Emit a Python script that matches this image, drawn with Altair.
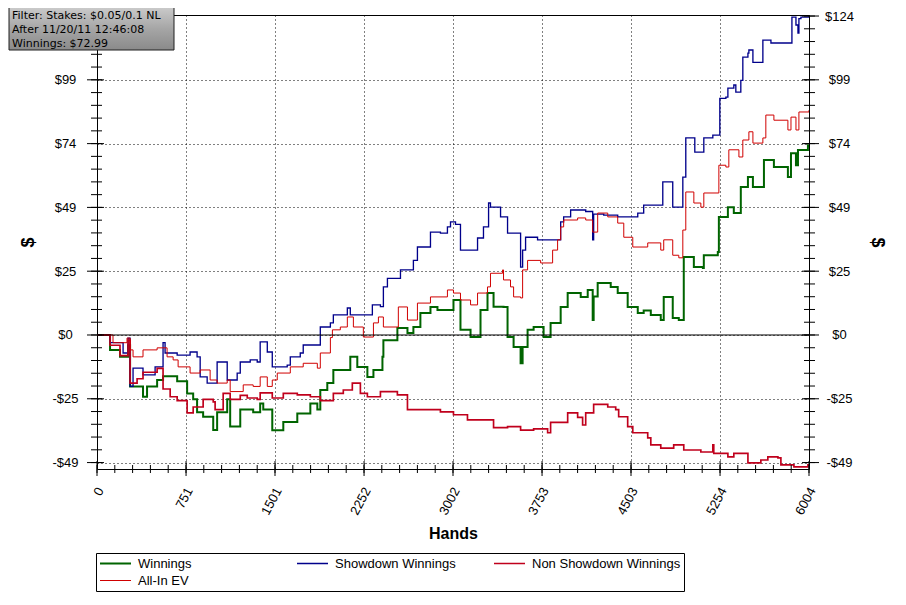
"""Poker results graph: winnings, showdown, non showdown and all-in EV by hand."""

import altair as alt
import pandas as pd

SERIES = ['Winnings', 'Showdown Winnings', 'Non Showdown Winnings', 'All-In EV']
SERIES_COLOURS = ['#006400', '#00008b', '#c0001c', '#d00000']
SERIES_WIDTHS = [2, 1, 1, 1]
# vega lays the legend grid out in this order, which reads back as SERIES
LEGEND_ORDER = [0, 2, 1, 3]

WIN_HANDS = [0, 110, 194, 262, 279, 388, 422, 507, 557, 676, 760, 811, 844, 895, 980,
             1013, 1098, 1123, 1208, 1317, 1376, 1402, 1478, 1571, 1689, 1799, 1858,
             1883, 1942, 1993, 2136, 2195, 2280, 2331, 2407, 2415, 2533, 2618, 2668,
             2727, 2812, 2871, 3006, 3065, 3150, 3234, 3293, 3344, 3428, 3462, 3513,
             3572, 3589, 3631, 3682, 3766, 3825, 3910, 3969, 4053, 4079, 4138, 4180,
             4188, 4222, 4332, 4391, 4475, 4560, 4610, 4670, 4754, 4779, 4838, 4855,
             4906, 4948, 5033, 5109, 5117, 5235, 5244, 5320, 5370, 5429, 5489, 5531,
             5624, 5708, 5826, 5852, 5894, 5911, 5995, 6004]
WIN_VALUES = [0, -5.8, -8.5, -4, -20, -24, -20, -17.5, -16, -18, -22.7, -25, -30, -31.8, -36.9,
              -30, -25, -35.6, -29, -30, -26.6, -29, -37, -33.8, -30.5, -26.6, -29,
              -21.4, -18.7, -13.6, -8.5, -12.4, -16.3, -13.6, -8.5, -2, 2.7, 0.8, 3.1,
              8.5, 10.9, 9.7, 13.6, 2, -0.8, 9.7, 16.3, 11, 10.9, -0.8, -4.7,
              -11, -4.7, 2, 3.1, -0.8, 4.7, 10.9, 16.3, 16.3, 14.8, 17.5, 5.8,
              15, 20.2, 18.7, 16.3, 10.9, 8.5, 9.5, 7.8, 5.8, 14.8, 14.8, 6.6,
              5.8, 30.3, 26.4, 26, 31, 32.3, 45.9, 49.7, 47.4, 57.5, 61.4, 57.5,
              68, 65.3, 61.4, 70.7, 66, 71.9, 73.8, 72.99]

SD_HANDS = [0, 110, 220, 262, 279, 304, 388, 490, 557, 574, 676, 785, 844, 870, 929,
            1013, 1098, 1182, 1208, 1292, 1351, 1376, 1436, 1478, 1604, 1630, 1714,
            1739, 1883, 1968, 1993, 2111, 2136, 2322, 2390, 2415, 2449, 2559, 2668,
            2702, 2812, 2896, 2955, 2981, 3023, 3065, 3209, 3259, 3302, 3318, 3403,
            3462, 3572, 3589, 3614, 3715, 3910, 3935, 3994, 4121, 4180, 4188, 4273,
            4391, 4560, 4610, 4771, 4855, 4940, 4965, 5041, 5117, 5193, 5252, 5303,
            5320, 5370, 5387, 5429, 5446, 5489, 5497, 5531, 5615, 5683, 5860, 5894,
            5911, 5919, 5936, 6004]
SD_VALUES = [0, -3, -7, -1.2, -20, -12.9, -15.5, -12.4, -3, -7, -7.8, -6.6, -8.5, -16.3, -18.7,
             -10.5, -17.5, -14.8, -10.5, -9.7, -10.5, -2.7, -6.6, -12.4, -11.7, -8.5, -7,
             -3.9, 3.1, 4.7, 7.8, 10.5, 7.8, 11.7, 11, 18.7, 22, 25.3, 29,
             34.2, 40, 39.6, 42, 44, 43, 33, 37.7, 42, 51.3, 49.7, 45.9,
             39.6, 26.4, 33, 38, 37, 44, 45.9, 48.6, 48, 37, 47, 46.6,
             45.9, 47.4, 50.5, 59.5, 49.7, 61.4, 76.6, 71.1, 76.6, 77.7, 92, 92.5,
             96, 97.2, 94.4, 99, 108, 109.6, 110.8, 106, 114.6, 113.5, 123.6, 120.5,
             117.4, 123, 123.6, 124]

NSD_HANDS = [0, 110, 194, 262, 279, 338, 388, 507, 557, 617, 676, 760, 811, 895, 980,
             996, 1064, 1123, 1208, 1267, 1351, 1376, 1478, 1571, 1689, 1799, 1883,
             1993, 2077, 2153, 2221, 2280, 2390, 2533, 2618, 2896, 3006, 3124, 3344,
             3462, 3572, 3682, 3800, 3825, 3969, 4053, 4095, 4121, 4188, 4307, 4374,
             4399, 4475, 4518, 4644, 4670, 4754, 4863, 4948, 5092, 5193, 5201, 5320,
             5370, 5489, 5598, 5657, 5742, 5767, 5877, 5995, 6004]
NSD_VALUES = [0, -4, -8, -2, -18.7, -17, -14.5, -13, -21, -24, -25.5, -30.3, -28, -25, -26,
              -29, -22.7, -25, -23.5, -24.5, -25, -22.5, -24.5, -22.7, -23.3, -24, -25.5,
              -22.7, -21.4, -18.7, -22.7, -24, -22, -23.3, -29, -29.9, -31, -33, -36,
              -35.6, -37, -36.5, -38, -34, -30.3, -32, -35, -30.3, -27, -28, -29,
              -31.8, -35.6, -38, -40, -42.7, -44, -42.7, -44.7, -45.5, -42.7, -46, -47.4,
              -46, -49.7, -48.6, -47.4, -47.8, -50.5, -51.3, -50.5, -50.3]

EV_HANDS = [0, 135, 253, 279, 304, 388, 507, 591, 642, 684, 785, 870, 954, 1013, 1098,
            1123, 1233, 1317, 1376, 1436, 1478, 1520, 1630, 1739, 1858, 1883, 1968,
            1985, 2052, 2111, 2162, 2246, 2331, 2373, 2415, 2541, 2618, 2702, 2812,
            2955, 3006, 3065, 3150, 3209, 3293, 3318, 3420, 3428, 3487, 3513, 3572,
            3589, 3631, 3741, 3842, 3884, 3910, 3935, 4053, 4121, 4180, 4222, 4307,
            4391, 4442, 4518, 4644, 4754, 4779, 4855, 4906, 4940, 4965, 5033, 5092,
            5117, 5244, 5303, 5328, 5413, 5446, 5497, 5531, 5615, 5640, 5708, 5826,
            5852, 5894, 5919, 6004]
EV_VALUES = [0, -3, -1.2, -5.8, -8.5, -5.8, -5, -8.5, -9.7, -12.4, -14.8, -13.6, -17.5, -18.7, -17.5,
             -22, -19.4, -20, -16.3, -20, -17.5, -14.8, -12.4, -11, -12.9, -7, -1,
             2, 3.1, 7, 3.1, -0.8, 4.7, 7, 3.1, 10.9, 5.8, 12.4, 14.8,
             17.5, 16.3, 13.6, 11.7, 16.3, 18.7, 24, 25.3, 21.4, 18.7, 14.8, 14.4,
             25.3, 29, 28, 33, 37, 42, 44.7, 45.5, 44.7, 40, 47.4, 45.9,
             43.5, 38, 34.2, 35.8, 33, 37, 31, 30, 40.8, 55.6, 51.3, 49.7,
             55.2, 66, 65.3, 72, 69.2, 75.8, 79, 74.6, 76.6, 85.5, 83.5, 79.7,
             84.7, 79.7, 86.7, 87.4]

X_TICKS = [0, 751, 1501, 2252, 3002, 3753, 4503, 5254, 6004]
X_MINOR = [round(k * 150.1, 1) for k in range(41)]
Y_TICKS = [124, 99.2, 74.4, 49.6, 24.8, 0, -24.8, -49.6]
Y_LABELS = ['$124', '$99', '$74', '$49', '$25', '$0', '-$25', '-$49']
Y_MINOR = [round(k * 4.96, 2) for k in range(-10, 26)]

BOX_TEXT = ['Filter: Stakes: $0.05/0.1 NL', 'After 11/20/11 12:46:08', 'Winnings: $72.99']

W, H = 712, 454
FONT = 'Liberation Sans'
X_SCALE = alt.Scale(domain=[0, 6004], nice=False, zero=False)
Y_SCALE = alt.Scale(domain=[-52.1, 124.4], nice=False, zero=False)
GRID = dict(grid=True, gridColor='black', gridDash=[1, 3], gridOpacity=1, gridWidth=1)
ONE = pd.DataFrame({'v': [0]})


def get_results_data() -> pd.DataFrame:
    """Returns the four result series in long form."""

    frames = []
    for name, hands, values in zip(SERIES,
                                   [WIN_HANDS, SD_HANDS, NSD_HANDS, EV_HANDS],
                                   [WIN_VALUES, SD_VALUES, NSD_VALUES, EV_VALUES]):
        frames.append(pd.DataFrame({'series': name, 'hands': hands, 'dollars': values}))
    return pd.concat(frames, ignore_index=True)


def y_label_expr() -> str:
    """Returns a vega expression mapping tick values to the dollar labels."""

    parts = [f"abs(datum.value - ({v})) < 0.01 ? '{lab}'" for v, lab in zip(Y_TICKS, Y_LABELS)]
    return ' : '.join(parts) + " : ''"


def y_axis(orient: str, padding: int, title_x: int, grid: bool, values) -> alt.Axis:
    """Returns a dollar axis for either side of the plot."""

    extra = GRID if grid else {'grid': False}
    return alt.Axis(orient=orient, values=values, labelExpr=y_label_expr(), labelAlign='center',
                    labelBaseline='middle', labelPadding=padding, labelFont=FONT, labelFontSize=13,
                    labelColor='black', labelFlush=False, labelOverlap=False, ticks=False,
                    tickSize=0, domain=False, title='$', titleFont=FONT, titleFontSize=18,
                    titleFontWeight='bold', titleColor='black', titleX=title_x, titleY=H / 2,
                    titleAlign='center', titleBaseline='middle', **extra)


X_AXIS = alt.Axis(values=X_TICKS, format='d', labelAngle=-62, labelAlign='right',
                  labelBaseline='middle', labelPadding=19, labelOffset=3, labelFont=FONT,
                  labelFontSize=13, labelColor='black', labelFlush=False, labelOverlap=False,
                  ticks=False, tickSize=0, domain=False, title='Hands', titleFont=FONT,
                  titleFontSize=16, titleFontWeight='bold', titleColor='black', titleX=W / 2,
                  titleY=64, titleAlign='center', titleBaseline='middle', **GRID)
# the top left label sits under the filter box, so the left side starts at $99
LEFT_AXIS = y_axis('left', 32, -69, True, Y_TICKS[1:])
RIGHT_AXIS = y_axis('right', 30, 67, False, Y_TICKS)


def get_legend() -> alt.Legend:
    """Returns the boxed three column legend under the plot."""

    return alt.Legend(title=None, orient='none', legendX=-1, legendY=538, columns=3,
                      gridAlign='all', symbolType='stroke', symbolSize=961, clipHeight=15,
                      labelOffset=6, columnPadding=9, rowPadding=2,
                      padding=3, strokeColor='black', fillColor='white', labelFont=FONT,
                      labelFontSize=13, labelColor='black', labelLimit=300)


def get_results_line_chart(data: pd.DataFrame) -> alt.Chart:
    """Returns the stepped lines of the four series with axes and legend."""

    domain = [SERIES[i] for i in LEGEND_ORDER]
    colours = [SERIES_COLOURS[i] for i in LEGEND_ORDER]
    widths = [SERIES_WIDTHS[i] for i in LEGEND_ORDER]
    return alt.Chart(data).mark_line(interpolate='step-after', clip=True).encode(
        x=alt.X('hands:Q', scale=X_SCALE, axis=X_AXIS),
        y=alt.Y('dollars:Q', scale=Y_SCALE, axis=LEFT_AXIS),
        color=alt.Color('series:N', scale=alt.Scale(domain=domain, range=colours),
                        legend=get_legend()),
        strokeWidth=alt.StrokeWidth('series:N', scale=alt.Scale(domain=domain, range=widths),
                                    legend=get_legend()),
    )


def get_tick_marks(values, channel: str, start: float, end: float) -> alt.Chart:
    """Returns short black rules that cross an axis at the given values."""

    base = alt.Chart(pd.DataFrame({'v': values})).mark_rule(color='black', strokeWidth=1)
    if channel == 'y':
        return base.encode(y=alt.Y('v:Q', scale=Y_SCALE, axis=LEFT_AXIS),
                           x=alt.value(start), x2=alt.value(end))
    return base.encode(x=alt.X('v:Q', scale=X_SCALE, axis=X_AXIS),
                       y=alt.value(start), y2=alt.value(end))


def get_filter_box() -> alt.LayerChart:
    """Returns the grey filter box in the upper left corner."""

    fill = alt.Gradient(gradient='linear', x1=0, x2=0, y1=0, y2=1,
                        stops=[alt.GradientStop(color='#cbcbcb', offset=0),
                               alt.GradientStop(color='#a6a6a6', offset=0.5),
                               alt.GradientStop(color='#8a8a8a', offset=1)])
    layers = [alt.Chart(ONE).mark_rect(fill=fill, stroke='#202020', strokeWidth=1).encode(
        x=alt.value(-88), x2=alt.value(77), y=alt.value(-8), y2=alt.value(35))]
    for i, line in enumerate(BOX_TEXT):
        layers.append(alt.Chart(ONE).mark_text(
            align='left', baseline='middle', font='DejaVu Sans', fontSize=11,
            color='black').encode(x=alt.value(-85), y=alt.value(0.5 + 14 * i),
                                  text=alt.value(line)))
    return alt.layer(*layers)


data = get_results_data()
zero_line = alt.Chart(ONE).mark_rule(color='black').encode(
    y=alt.Y('v:Q', scale=Y_SCALE, axis=LEFT_AXIS))

left_group = alt.layer(
    get_results_line_chart(data),
    zero_line,
    get_tick_marks(Y_MINOR, 'y', -6, 5),
    get_tick_marks(Y_TICKS, 'y', -10, 7),
    get_tick_marks(Y_MINOR, 'y', W - 5, W + 6),
    get_tick_marks(Y_TICKS, 'y', W - 7, W + 10),
    get_tick_marks(X_MINOR, 'x', H - 4, H + 4),
    get_tick_marks(X_TICKS, 'x', H - 8, H + 7),
    get_filter_box(),
)

right_axis = alt.Chart(pd.DataFrame({'v': Y_TICKS})).mark_tick(opacity=0).encode(
    y=alt.Y('v:Q', scale=Y_SCALE, axis=RIGHT_AXIS))

chart = alt.layer(left_group, right_axis).resolve_scale(y='independent').properties(
    width=W, height=H, autosize=alt.AutoSizeParams(type='none'),
    padding={'left': 89, 'top': 7, 'right': 87, 'bottom': 128},
    background='white',
).configure_view(stroke='black', strokeWidth=1)

chart.save('out.html', embed_options={'renderer': 'svg', 'actions': False})
